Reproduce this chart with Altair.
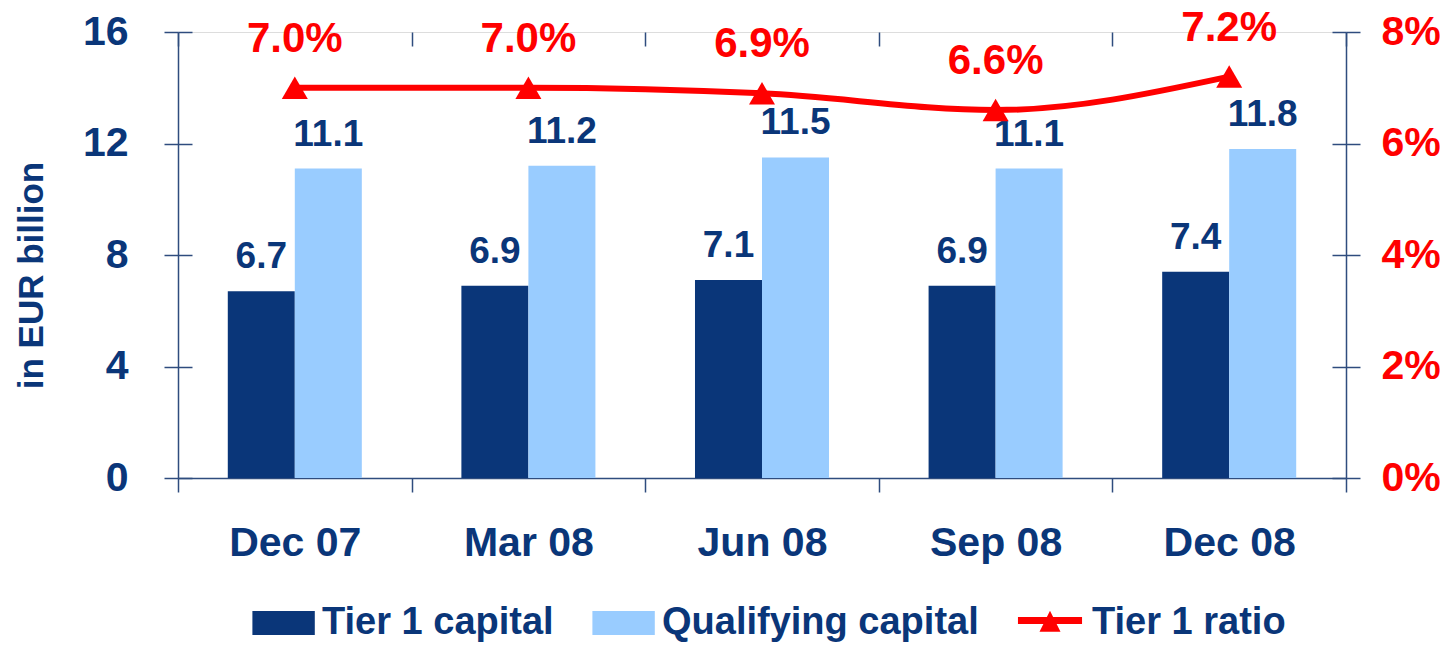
import altair as alt
import pandas as pd

periods = ["Dec 07", "Mar 08", "Jun 08", "Sep 08", "Dec 08"]
tier1_capital = [6.7, 6.9, 7.1, 6.9, 7.4]
qualifying_capital = [11.1, 11.2, 11.5, 11.1, 11.8]
tier1_ratio = [7.0, 7.0, 6.9, 6.6, 7.2]
series_names = ["Tier 1 capital", "Qualifying capital", "Tier 1 ratio"]
series_colors = ["#0A3679", "#99CCFF", "#FF0000"]
left_ticks = [0, 4, 8, 12, 16]
right_ticks = [0, 2, 4, 6, 8]

NAVY = "#0A3679"
RED = "#FF0000"
AXIS = "#2F4C7E"
FONT = "Liberation Sans"

RECT = "M-2.3,-1H2.9V1H-2.3Z"
LINE_TRI = "M-2.67,-0.49H2.67V0.09H-2.67Z M0,-1.03L0.875,0.72H-0.875Z"

bars_df = pd.DataFrame({
    "period": periods * 2,
    "series": [series_names[0]] * 5 + [series_names[1]] * 5,
    "value": tier1_capital + qualifying_capital,
    "label": [f"{v:.1f}" for v in tier1_capital + qualifying_capital],
})
ratio_df = pd.DataFrame({
    "period": periods,
    "series": [series_names[2]] * 5,
    "ratio": tier1_ratio,
    "label": [f"{v:.1f}%" for v in tier1_ratio],
})

tick_style = dict(tickSize=14, tickColor=AXIS, tickWidth=1.5)
x_scale = alt.Scale(paddingInner=0, paddingOuter=0)

# main x axis (domain, outer half of ticks, labels)
x_main = alt.X(
    "period:N", sort=periods, scale=x_scale,
    axis=alt.Axis(title=None, labelAngle=0, labelFontSize=41, labelFontWeight="bold",
                  labelColor=NAVY, labelPadding=31, tickBand="extent",
                  domainColor=AXIS, domainWidth=1.5, labelFont=FONT, **tick_style),
)
# inner half of the crossing ticks
x_inner = alt.X(
    "period:N", sort=periods, scale=x_scale,
    axis=alt.Axis(title=None, labels=False, domain=False, tickBand="extent", offset=-14,
                  **tick_style),
)
x_none = alt.X("period:N", sort=periods, scale=x_scale, axis=None)

xoff = alt.XOffset("series:N", sort=series_names[:2],
                   scale=alt.Scale(domain=series_names[:2], paddingInner=0, paddingOuter=0.743))

left_scale = alt.Scale(domain=[0, 16])
y_left = alt.Y(
    "value:Q", scale=left_scale,
    axis=alt.Axis(orient="left", values=left_ticks, title="in EUR billion", grid=False,
                  labelFontSize=41, labelFontWeight="bold", labelColor=NAVY, labelPadding=36,
                  labelFont=FONT, domainColor=AXIS, domainWidth=1.5,
                  titleFont=FONT, titleFontSize=35, titleFontWeight="bold", titleColor=NAVY,
                  titleX=-147, titleY=243, titleAngle=270, titleAlign="center",
                  titleBaseline="middle", **tick_style),
)
y_left_inner = alt.Y(
    "value:Q", scale=left_scale,
    axis=alt.Axis(orient="left", values=left_ticks, title=None, grid=False, labels=False,
                  domain=False, offset=-14, **tick_style),
)

right_scale = alt.Scale(domain=[0, 8])
y_right = alt.Y(
    "ratio:Q", scale=right_scale,
    axis=alt.Axis(orient="right", values=right_ticks, labelExpr="datum.value + '%'",
                  title=None, grid=False, labelFontSize=41, labelFontWeight="bold",
                  labelColor=RED, labelPadding=21, labelFont=FONT,
                  domainColor=AXIS, domainWidth=1.5, **tick_style),
)
y_right_inner = alt.Y(
    "ratio:Q", scale=right_scale,
    axis=alt.Axis(orient="right", values=right_ticks, title=None, grid=False, labels=False,
                  domain=False, offset=-14, **tick_style),
)
y_right_none = alt.Y("ratio:Q", scale=right_scale, axis=None)

color_scale = alt.Scale(domain=series_names, range=series_colors)
legend_kw = dict(title=None, orient="none", legendX=83, legendY=572, direction="horizontal",
                 labelFont=FONT, labelFontSize=38, labelFontWeight="bold", labelColor=NAVY,
                 labelLimit=600, symbolSize=576, symbolStrokeWidth=0, labelOffset=23,
                 columnPadding=38, padding=0, symbolOpacity=1)

bars = alt.Chart(bars_df).mark_bar().encode(
    x=x_main, xOffset=xoff, y=y_left,
    color=alt.Color("series:N", scale=color_scale, legend=alt.Legend(**legend_kw)),
)
bar_text = alt.Chart(bars_df).mark_text(
    baseline="alphabetic", dy=-23, fontSize=37, fontWeight="bold", color=NAVY, font=FONT
).encode(x=x_inner, xOffset=xoff, y=y_left_inner, text="label:N")

line = alt.Chart(ratio_df).mark_line(interpolate="monotone", strokeWidth=6, color=RED).encode(
    x=x_none, y=y_right)
points = alt.Chart(ratio_df).mark_point(
    shape="triangle-up", filled=True, size=676, color=RED, opacity=1
).encode(x=x_none, y=y_right_none)
pct_text = alt.Chart(ratio_df).mark_text(
    baseline="alphabetic", dy=-36, fontSize=42, fontWeight="bold", color=RED, font=FONT
).encode(x=x_none, y=y_right_inner, text="label:N")
# layer with no drawn rows that only supplies the legend symbols
legend_pts = alt.Chart(ratio_df).mark_point(filled=True, opacity=1).transform_filter(
    "datum.ratio < 0"
).encode(
    x=x_none, y=y_right_none,
    color=alt.Color("series:N", scale=color_scale, legend=alt.Legend(**legend_kw)),
    shape=alt.Shape("series:N", scale=alt.Scale(domain=series_names, range=[RECT, RECT, LINE_TRI]),
                    legend=alt.Legend(**legend_kw)),
)

left_group = alt.layer(bars, bar_text).resolve_axis(x="independent", y="independent")
right_group = alt.layer(line, points, pct_text, legend_pts).resolve_axis(y="independent")

chart = alt.layer(left_group, right_group).resolve_scale(y="independent").properties(
    width=1168, height=446,
    autosize=alt.AutoSizeParams(type="none"),
    padding={"left": 170, "top": 24, "right": 94, "bottom": 166},
).configure_view(stroke=None).configure(font=FONT)

chart.save("out.html", embed_options={"renderer": "svg", "actions": False})
